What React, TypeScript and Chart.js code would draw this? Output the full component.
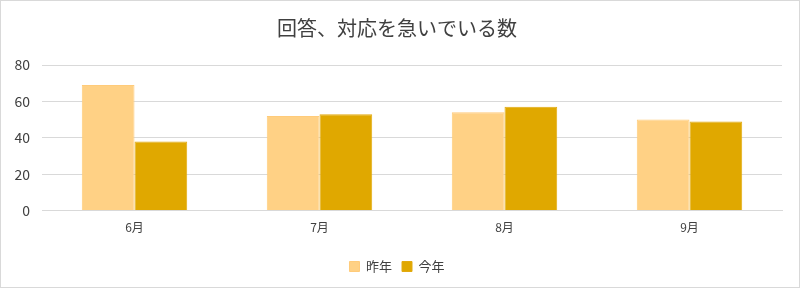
import React, { useEffect, useRef } from "react";
import { Chart, registerables } from "chart.js";

Chart.register(...registerables);

const categories = ["6月", "7月", "8月", "9月"];
const lastYear = [69, 52, 54, 50];
const thisYear = [38, 53, 57, 49];
const seriesNames = ["昨年", "今年"];
const titleText = "回答、対応を急いでいる数";

const FONT = "'Noto Sans CJK JP', 'Noto Sans', sans-serif";

export default function App() {
  const ref = useRef<HTMLCanvasElement | null>(null);

  useEffect(() => {
    document.body.style.margin = "0";
    const ctx = ref.current!;
    const chart = new Chart(ctx, {
      type: "bar",
      data: {
        labels: categories,
        datasets: [
          {
            label: seriesNames[0],
            data: lastYear,
            backgroundColor: "#FFD185",
            borderColor: "#FFCB7A",
            borderWidth: 1,
            categoryPercentage: 0.57,
            barPercentage: 1.0,
          },
          {
            label: seriesNames[1],
            data: thisYear,
            backgroundColor: "#E0A800",
            borderColor: "#E2AA10",
            borderWidth: 1,
            categoryPercentage: 0.57,
            barPercentage: 1.0,
          },
        ],
      },
      options: {
        animation: false,
        responsive: false,
        maintainAspectRatio: false,
        layout: { padding: { left: 11, right: 17, top: 0, bottom: 4 } },
        plugins: {
          title: {
            display: true,
            text: titleText,
            color: "#404040",
            font: { family: FONT, size: 20, weight: "normal" },
            padding: { top: 15, bottom: 25 },
          },
          legend: {
            position: "bottom",
            labels: {
              color: "#404040",
              font: { family: FONT, size: 13 },
              boxWidth: 10,
              boxHeight: 10,
              padding: 10,
            },
          },
          tooltip: { enabled: false },
        },
        scales: {
          x: {
            grid: { display: false, drawTicks: false },
            border: { display: true, color: "#D9D9D9" },
            ticks: {
              color: "#404040",
              font: { family: FONT, size: 12 },
              padding: 10,
            },
            afterFit: (scale: any) => {
              scale.height += 5;
            },
          },
          y: {
            min: 0,
            max: 80,
            grid: { color: "#D9D9D9", drawTicks: false },
            border: { display: false },
            ticks: {
              stepSize: 20,
              color: "#404040",
              font: { family: FONT, size: 14 },
              padding: 12,
            },
            afterFit: (scale: any) => {
              scale.width = 30;
            },
          },
        },
      },
    });
    return () => chart.destroy();
  }, []);

  return (
    <div
      style={{
        width: 800,
        height: 288,
        boxSizing: "border-box",
        border: "1px solid #D9D9D9",
        background: "#fff",
      }}
    >
      <canvas ref={ref} width={798} height={286} style={{ display: "block" }} />
    </div>
  );
}
